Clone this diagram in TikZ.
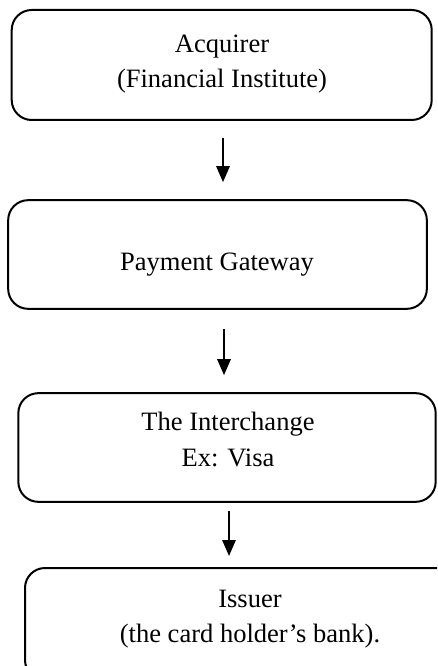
\documentclass[tikz,border=0pt]{standalone}
\usepackage{fontspec}
\setmainfont{Liberation Serif}
\usetikzlibrary{arrows.meta}
\begin{document}
\begin{tikzpicture}[x=0.75pt,y=-0.75pt,
  box/.style={draw=black, line width=1.5pt, rounded corners=15pt, inner sep=0pt},
  lbl/.style={align=center, font=\fontsize{19.9pt}{26.5pt}\selectfont, inner sep=0pt},
  arr/.style={line width=1.5pt, -{Triangle[width=10pt,length=12pt]}}]
\useasboundingbox (0,0) rectangle (437,666);
\clip (0,0) rectangle (437,666);

% flow boxes
\node[box, minimum width=315pt, minimum height=82.5pt] (b1) at (221.7,65) {};
\node[box, minimum width=314pt, minimum height=81.5pt] (b2) at (217.5,254.5) {};
\node[box, minimum width=313pt, minimum height=81.5pt] (b3) at (227,447.5) {};
\node[box, minimum width=322.5pt, minimum height=84pt] (b4) at (240,624) {};

% box texts
\node[lbl] (t1) at (222,64) {Acquirer\\(Financial Institute)};
\node[lbl] (t2) at (217,265) {Payment Gateway};
\node[lbl] (t3) at (228,439.5) {The Interchange\\Ex: Visa};
\node[lbl] (t4) at (250,619) {Issuer\\(the card holder’s bank).};

% arrows between boxes
\draw[arr, shorten <=12.75pt, shorten >=12.75pt] (b1.south -| 223,0) -- (b2.north -| 223,0);
\draw[arr, shorten <=14.25pt, shorten >=12.75pt] (b2.south -| 224,0) -- (b3.north -| 224,0);
\draw[arr, shorten <=6pt, shorten >=8.25pt] (b3.south -| 229,0) -- (b4.north -| 229,0);
\end{tikzpicture}
\end{document}
